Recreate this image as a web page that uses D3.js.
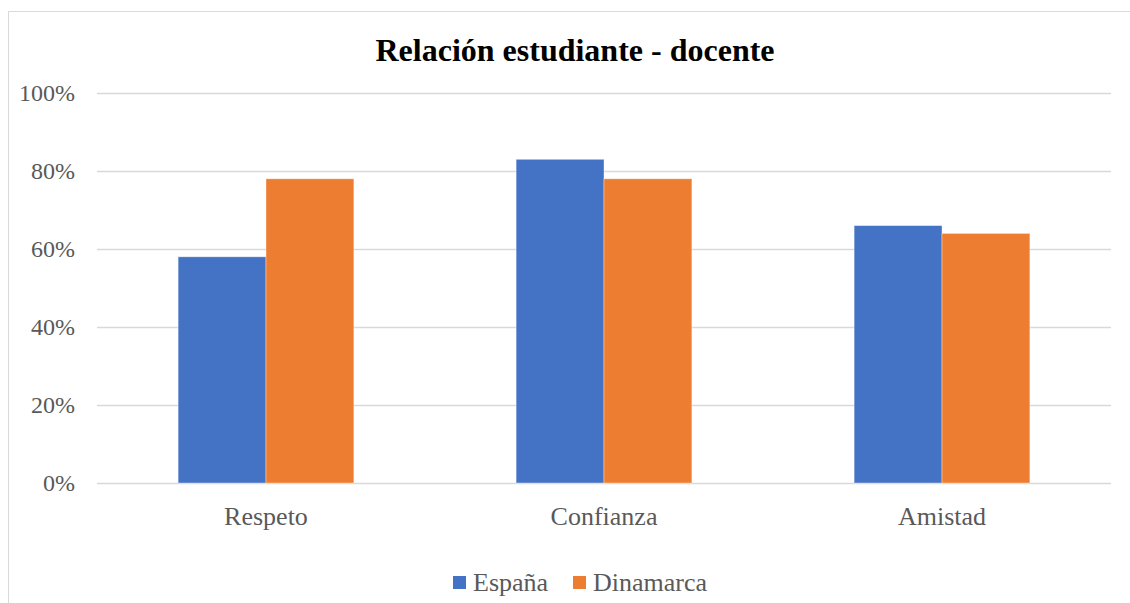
<!DOCTYPE html>
<html>
<head>
<meta charset="utf-8">
<script src="https://cdn.jsdelivr.net/npm/d3@7"></script>
<style>
  body { margin: 0; background: #fff; }
  svg text { font-family: "Liberation Serif", "Times New Roman", serif; }
</style>
</head>
<body>
<svg id="chart" width="1130" height="603"></svg>
<script>
// chart data
var categories = ["Respeto", "Confianza", "Amistad"];
var seriesNames = ["España", "Dinamarca"];
var espana = [0.58, 0.83, 0.66];
var dinamarca = [0.78, 0.78, 0.64];
var yTicks = [0, 0.2, 0.4, 0.6, 0.8, 1.0];
var colors = ["#4472C4", "#ED7D31"];

var plotLeft = 97,
    plotRight = 1111,
    plotTop = 93,
    plotBottom = 483;

var svg = d3.select("#chart");

// outer frame
svg.append("rect")
    .attr("x", 8.5)
    .attr("y", 11.5)
    .attr("width", 1130)
    .attr("height", 620)
    .attr("fill", "none")
    .attr("stroke", "#d9d9d9")
    .attr("stroke-width", 1);

var y = d3.scaleLinear().domain([0, 1]).range([plotBottom, plotTop]);

var x0 = d3.scaleBand().domain(categories).range([plotLeft, plotRight]).padding(0);
var groupWidth = x0.bandwidth() * 0.52;
var x1 = d3.scaleBand().domain(seriesNames).range([0, groupWidth]);

// gridlines
svg.append("g")
    .selectAll("line")
    .data(yTicks)
    .enter().append("line")
    .attr("x1", plotLeft)
    .attr("x2", plotRight)
    .attr("y1", function(d) { return Math.round(y(d)) + 0.5; })
    .attr("y2", function(d) { return Math.round(y(d)) + 0.5; })
    .attr("stroke", "#d9d9d9")
    .attr("stroke-width", 1.3);

// y labels
svg.append("g")
    .selectAll("text")
    .data(yTicks)
    .enter().append("text")
    .attr("x", 75)
    .attr("y", function(d) { return y(d); })
    .attr("dy", ".34em")
    .attr("text-anchor", "end")
    .attr("font-size", "24px")
    .attr("fill", "#595959")
    .text(d3.format(".0%"));

var rows = categories.map(function(c, i) {
    return { cat: c, values: [espana[i], dinamarca[i]] };
});

var group = svg.append("g")
    .selectAll("g")
    .data(rows)
    .enter().append("g")
    .attr("transform", function(d) {
        return "translate(" + (x0(d.cat) + (x0.bandwidth() - groupWidth) / 2) + ",0)";
    });

group.selectAll("rect")
    .data(function(d) {
        return d.values.map(function(v, j) { return { name: seriesNames[j], value: v, idx: j }; });
    })
    .enter().append("rect")
    .attr("x", function(d) { return x1(d.name); })
    .attr("y", function(d) { return y(d.value); })
    .attr("width", x1.bandwidth())
    .attr("height", function(d) { return plotBottom - y(d.value); })
    .attr("fill", function(d) { return colors[d.idx]; })
    .attr("stroke", "#ffffff")
    .attr("stroke-opacity", 0.5)
    .attr("stroke-width", 0.75);

// category labels
svg.append("g")
    .selectAll("text")
    .data(categories)
    .enter().append("text")
    .attr("x", function(d) { return x0(d) + x0.bandwidth() / 2; })
    .attr("y", 525)
    .attr("text-anchor", "middle")
    .attr("font-size", "26px")
    .attr("fill", "#595959")
    .text(function(d) { return d; });

// title
svg.append("text")
    .attr("x", 575)
    .attr("y", 61)
    .attr("text-anchor", "middle")
    .attr("font-size", "32px")
    .attr("font-weight", "bold")
    .attr("fill", "#000")
    .text("Relación estudiante - docente");

// legend
var legendX = [453, 573];
var legend = svg.append("g")
    .selectAll("g")
    .data(seriesNames)
    .enter().append("g")
    .attr("transform", function(d, i) { return "translate(" + legendX[i] + ",0)"; });

legend.append("rect")
    .attr("x", 0)
    .attr("y", 576)
    .attr("width", 13)
    .attr("height", 13)
    .attr("fill", function(d, i) { return colors[i]; });

legend.append("text")
    .attr("x", 20)
    .attr("y", 591)
    .attr("font-size", "26px")
    .attr("fill", "#595959")
    .text(function(d) { return d; });
</script>
</body>
</html>
